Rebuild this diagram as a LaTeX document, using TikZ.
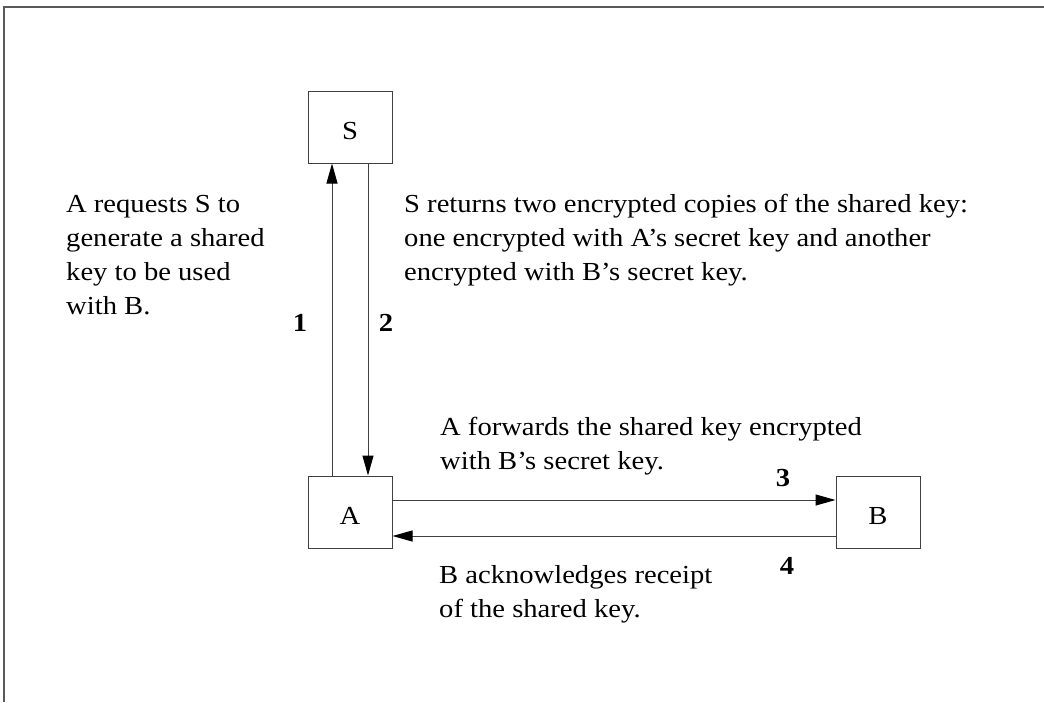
\documentclass[tikz,border=0pt]{standalone}
\usepackage{fontspec}
\setmainfont{Liberation Serif}[FakeStretch=1.1]
\usetikzlibrary{arrows.meta}
\begin{document}
\begin{tikzpicture}[x=1pt,y=-1pt,
  box/.style={draw=black!75,line width=1pt,minimum width=84pt,minimum height=72pt,inner sep=0pt},
  conn/.style={draw=black!75,line width=1pt,-{Triangle[length=20pt,width=11pt,color=black]}},
  txt/.style={anchor=base west,align=left,inner sep=0pt,font=\fontsize{26}{34}\selectfont},
  num/.style={inner sep=0pt,font=\fontsize{26}{30}\selectfont\bfseries},
  lbl/.style={font=\fontsize{26}{30}\selectfont,text height=24pt,text depth=0pt}]
\useasboundingbox (0,0) rectangle (1044,702);
\coordinate (fb) at (4,702);
\coordinate (ftl) at (4,7);
\coordinate (fr) at (1044,7);
\draw[black!65,line width=1.5pt] (fb) -- (ftl) -- (fr);
\node[box,lbl] (S) at (350,127) {S};
\node[box,lbl] (A) at (350,512) {A};
\node[box,lbl] (B) at (878,512) {B};
\draw[conn] ([xshift=-18pt]A.north) -- ([xshift=-18pt]S.south);
\draw[conn] ([xshift=18pt]S.south) -- ([xshift=18pt]A.north);
\draw[conn] ([yshift=12pt]A.east) -- ([yshift=12pt]B.west);
\draw[conn] ([yshift=-24pt]B.west) -- ([yshift=-24pt]A.east);
\node[num] (n1) at (300,323) {1};
\node[num] (n2) at (386,323) {2};
\node[num] (n3) at (783,478) {3};
\node[num] (n4) at (787,566) {4};
\node[txt] (t1) at (66,314) {A requests S to\\generate a shared\\key to be used\\with B.};
\node[txt] (t2) at (404,280) {S returns two encrypted copies of the shared key:\\one encrypted with A’s secret key and another\\encrypted with B’s secret key.};
\node[txt] (t3) at (440,469) {A forwards the shared key encrypted\\with B’s secret key.};
\node[txt] (t4) at (439,617) {B acknowledges receipt\\of the shared key.};
\end{tikzpicture}
\end{document}
